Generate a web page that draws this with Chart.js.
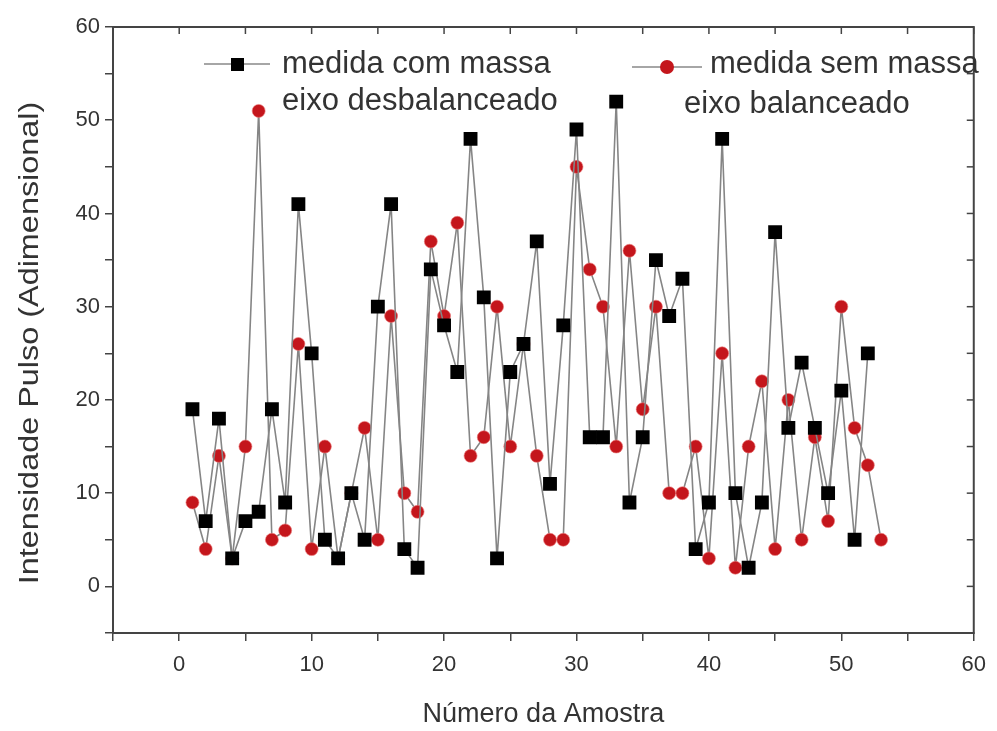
<!DOCTYPE html>
<html>
<head>
<meta charset="utf-8">
<script src="https://cdn.jsdelivr.net/npm/chart.js@4"></script>
<style>
  html, body { margin: 0; padding: 0; background: #fff; }
  #wrap { width: 997px; height: 731px; }
</style>
</head>
<body>
<div id="wrap"><canvas id="chart" width="997" height="731"></canvas></div>
<script>
// Werte
const comMassa = [19, 7, 18, 3, 7, 8, 19, 9, 41, 25, 5, 3, 10, 5, 30, 41, 4, 2, 34, 28,
                  23, 48, 31, 3, 23, 26, 37, 11, 28, 49, 16, 16, 52, 9, 16, 35, 29, 33, 4, 9,
                  48, 10, 2, 9, 38, 17, 24, 17, 10, 21, 5, 25];
const semMassa = [9, 4, 14, 3, 15, 51, 5, 6, 26, 4, 15, 3, 10, 17, 5, 29, 10, 8, 37, 29,
                  39, 14, 16, 30, 15, 26, 14, 5, 5, 45, 34, 30, 15, 36, 19, 30, 10, 10, 15, 3,
                  25, 2, 15, 22, 4, 20, 5, 16, 7, 30, 17, 13, 5];
const xTicks = [0, 10, 20, 30, 40, 50, 60];
const yTicks = [0, 10, 20, 30, 40, 50, 60];

const FONT = "'Liberation Sans', Arial, sans-serif";
const TXT = '#333';

const toPoints = vals => vals.map((v, i) => ({ x: i + 1, y: v }));

// Rahmen + Ticks oben/rechts (nach innen) + Y-Titel
const frame = {
    id: 'frame',
    afterDraw(chart) {
        const { ctx, chartArea: a, scales } = chart;
        ctx.save();
        ctx.strokeStyle = '#444';
        ctx.lineWidth = 2;
        ctx.strokeRect(a.left, a.top, a.right - a.left, a.bottom - a.top);
        ctx.lineWidth = 1.5;
        scales.x.ticks.forEach(t => {
            const px = scales.x.getPixelForValue(t.value);
            ctx.beginPath();
            ctx.moveTo(px, a.top);
            ctx.lineTo(px, a.top + 7);
            ctx.stroke();
        });
        scales.y.ticks.forEach(t => {
            const py = scales.y.getPixelForValue(t.value);
            ctx.beginPath();
            ctx.moveTo(a.right, py);
            ctx.lineTo(a.right - 7, py);
            ctx.stroke();
        });

        // Y-Achsentitel, etwas gestreckt wie im Original
        ctx.translate(31, 343);
        ctx.rotate(-Math.PI / 2);
        ctx.scale(1.2, 1);
        ctx.font = '27px ' + FONT;
        ctx.fillStyle = TXT;
        ctx.textAlign = 'center';
        ctx.textBaseline = 'middle';
        ctx.fillText('Intensidade Pulso (Adimensional)', 0, 0);
        ctx.restore();
    }
};

// Legende im Diagramm
const legendInside = {
    id: 'legendInside',
    afterDraw(chart) {
        const ctx = chart.ctx;
        ctx.save();
        ctx.font = '31px ' + FONT;
        ctx.fillStyle = TXT;
        ctx.textBaseline = 'middle';

        ctx.strokeStyle = '#888';
        ctx.lineWidth = 1.5;
        ctx.beginPath();
        ctx.moveTo(204, 64); ctx.lineTo(270, 64);
        ctx.stroke();
        ctx.fillStyle = '#000';
        ctx.fillRect(231, 58, 13, 13);
        ctx.fillStyle = TXT;
        ctx.fillText('medida com massa', 282, 64);
        ctx.fillText('eixo desbalanceado', 282, 101);

        ctx.beginPath();
        ctx.moveTo(632, 67); ctx.lineTo(702, 67);
        ctx.stroke();
        ctx.beginPath();
        ctx.arc(667, 67, 7, 0, Math.PI * 2);
        ctx.fillStyle = '#c4161c';
        ctx.fill();
        ctx.fillStyle = TXT;
        ctx.fillText('medida sem massa', 710, 64);
        ctx.fillText('eixo balanceado', 684, 104);
        ctx.restore();
    }
};

new Chart(document.getElementById('chart'), {
    type: 'line',
    data: {
        datasets: [{
            label: 'medida sem massa eixo balanceado',
            data: toPoints(semMassa),
            borderColor: '#858585',
            borderWidth: 1.6,
            pointStyle: 'circle',
            pointRadius: 6.5,
            pointBackgroundColor: '#c4161c',
            pointBorderColor: 'rgba(235,120,120,0.6)',
            pointBorderWidth: 1,
            tension: 0,
            order: 2
        }, {
            label: 'medida com massa eixo desbalanceado',
            data: toPoints(comMassa),
            borderColor: '#858585',
            borderWidth: 1.6,
            pointStyle: 'rect',
            pointRadius: 9.8,
            pointBackgroundColor: '#000',
            pointBorderColor: '#000',
            pointBorderWidth: 0,
            tension: 0,
            order: 1
        }]
    },
    options: {
        responsive: false,
        animation: false,
        layout: { padding: { top: 27, right: 16, left: 0, bottom: 0 } },
        plugins: { legend: { display: false }, tooltip: { enabled: false } },
        scales: {
            x: {
                type: 'linear',
                min: -5, max: 60,
                afterFit: s => { s.height = 98; },
                border: { display: true, color: '#444', width: 2 },
                grid: { drawOnChartArea: false, drawTicks: true, tickLength: 8, color: '#444', lineWidth: 1.5 },
                ticks: {
                    stepSize: 5,
                    padding: 11,
                    color: TXT,
                    font: { family: FONT, size: 22 },
                    callback: v => xTicks.includes(v) ? String(v) : ''
                },
                title: {
                    display: true,
                    text: 'Número da Amostra',
                    color: TXT,
                    font: { family: FONT, size: 27 },
                    padding: { top: 0, bottom: 0 }
                }
            },
            y: {
                min: -5, max: 60,
                afterFit: s => { s.width = 113; },
                border: { display: true, color: '#444', width: 2 },
                grid: { drawOnChartArea: false, drawTicks: true, tickLength: 8, color: '#444', lineWidth: 1.5 },
                ticks: {
                    stepSize: 5,
                    padding: 5,
                    color: TXT,
                    font: { family: FONT, size: 22 },
                    callback: v => yTicks.includes(v) ? String(v) : ''
                },
                title: { display: false }
            }
        }
    },
    plugins: [frame, legendInside]
});
</script>
</body>
</html>
